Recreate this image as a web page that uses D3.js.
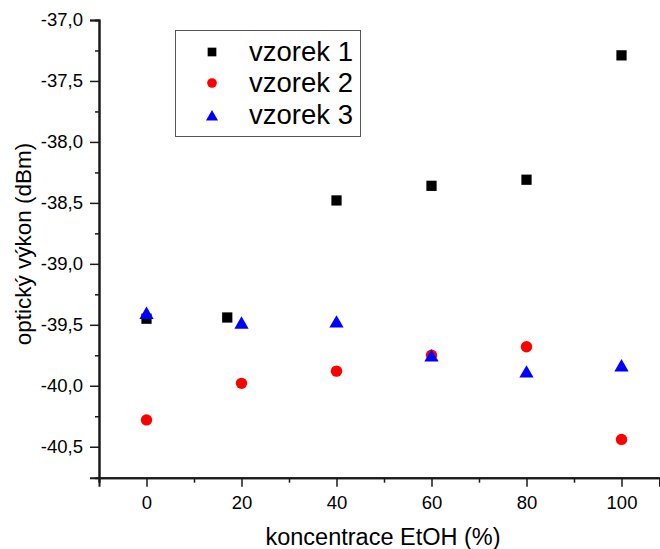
<!DOCTYPE html>
<html>
<head>
<meta charset="utf-8">
<script src="https://cdn.jsdelivr.net/npm/d3@7"></script>
<style>
  html, body { margin: 0; padding: 0; background: #fff; }
  svg { display: block; font-family: "Liberation Sans", Arial, sans-serif; }
</style>
</head>
<body>
<svg id="chart" width="660" height="549"></svg>
<script>
// Concentration of EtOH (%) for each sample series
const x1 = [0, 17, 40, 60, 80, 100];
const y1 = [-39.45, -39.44, -38.48, -38.36, -38.31, -37.29];
const x2 = [0, 20, 40, 60, 80, 100];
const y2 = [-40.28, -39.98, -39.88, -39.75, -39.68, -40.44];
const x3 = [0, 20, 40, 60, 80, 100];
const y3 = [-39.41, -39.49, -39.48, -39.76, -39.89, -39.84];

const seriesNames = ["vzorek 1", "vzorek 2", "vzorek 3"];
const xTicks = [0, 20, 40, 60, 80, 100];
const xMinorTicks = [-10, 10, 30, 50, 70, 90];
const yTicks = [-40.5, -40.0, -39.5, -39.0, -38.5, -38.0, -37.5, -37.0];
const yMinorTicks = [-40.25, -39.75, -39.25, -38.75, -38.25, -37.75, -37.25];

const xTitle = "koncentrace EtOH (%)";
const yTitle = "optický výkon (dBm)";

const svg = d3.select("#chart");

const x = d3.scaleLinear().domain([-10, 108]).range([99, 659.5]);
const y = d3.scaleLinear().domain([-40.754, -37.0]).range([477.7, 20]);

const axisColor = "#1a1a1a";
const fmtY = v => d3.format(".1f")(v).replace(".", ",").replace("\u2212", "-");

// X axis: minor ticks, then major ticks with labels
const gx = svg.append("g").attr("transform", `translate(0,${y.range()[0]})`)
  .call(d3.axisBottom(x).tickValues(xMinorTicks).tickSize(5).tickFormat(""));
const gxMaj = svg.append("g").attr("transform", `translate(0,${y.range()[0]})`)
  .call(d3.axisBottom(x).tickValues(xTicks).tickSize(9).tickPadding(9).tickFormat(d3.format("d")));
[gx, gxMaj].forEach(g => {
  g.select(".domain").attr("stroke", axisColor).attr("stroke-width", 2);
  g.selectAll(".tick line").attr("stroke", axisColor).attr("stroke-width", 1.5);
});
gxMaj.selectAll(".tick text").attr("font-size", 18.5).attr("fill", "#000")
  .attr("font-family", "Liberation Sans, Arial, sans-serif");

// Y axis: minor ticks, then major ticks with comma-decimal labels
const gy = svg.append("g").attr("transform", `translate(${x.range()[0]},0)`)
  .call(d3.axisLeft(y).tickValues(yMinorTicks).tickSize(4).tickFormat(""));
const gyMaj = svg.append("g").attr("transform", `translate(${x.range()[0]},0)`)
  .call(d3.axisLeft(y).tickValues(yTicks).tickSize(9).tickPadding(7).tickFormat(fmtY));
[gy, gyMaj].forEach(g => {
  g.select(".domain").attr("stroke", axisColor).attr("stroke-width", 2);
  g.selectAll(".tick line").attr("stroke", axisColor).attr("stroke-width", 1.5);
});
gyMaj.selectAll(".tick text").attr("font-size", 18.5).attr("fill", "#000")
  .attr("font-family", "Liberation Sans, Arial, sans-serif");

// Axis titles
svg.append("text")
  .attr("x", 383).attr("y", 545)
  .attr("text-anchor", "middle")
  .attr("font-size", 23.5)
  .text(xTitle);

svg.append("text")
  .attr("transform", `translate(31,${244}) rotate(-90)`)
  .attr("text-anchor", "middle")
  .attr("font-size", 22.5)
  .text(yTitle);

// Marker symbols
const symSquare = d3.symbol().type(d3.symbolSquare).size(105);
const symCircle = d3.symbol().type(d3.symbolCircle).size(Math.PI * 5.7 * 5.7);
const symTri = d3.symbol().type(d3.symbolTriangle).size(88);

const series = [
  { name: seriesNames[0], xs: x1, ys: y1, sym: symSquare, color: "#000000", dy: 0 },
  { name: seriesNames[1], xs: x2, ys: y2, sym: symCircle, color: "#ff0000", dy: 0 },
  { name: seriesNames[2], xs: x3, ys: y3, sym: symTri, color: "#0000ff", dy: 1 }
];

const plot = svg.append("g");
series.forEach(s => {
  plot.append("g").selectAll("path")
    .data(s.xs.map((v, i) => [v, s.ys[i]]))
    .join("path")
    .attr("d", s.sym)
    .attr("fill", s.color)
    .attr("transform", d => `translate(${x(d[0])},${y(d[1]) + s.dy})`);
});

// Legend
const legend = svg.append("g");
legend.append("rect")
  .attr("x", 175.5).attr("y", 30.5).attr("width", 185).attr("height", 106)
  .attr("fill", "#fff").attr("stroke", "#555").attr("stroke-width", 1);
const markerY = [52, 83, 116];
const textY = [51, 82.5, 114.5];
series.forEach((s, i) => {
  legend.append("path")
    .attr("d", s.sym)
    .attr("fill", s.color)
    .attr("transform", `translate(212,${markerY[i] + s.dy}) scale(0.85)`);
  legend.append("text")
    .attr("x", 249).attr("y", textY[i])
    .attr("dy", "0.36em")
    .attr("font-size", 27.5)
    .text(s.name);
});
</script>
</body>
</html>
